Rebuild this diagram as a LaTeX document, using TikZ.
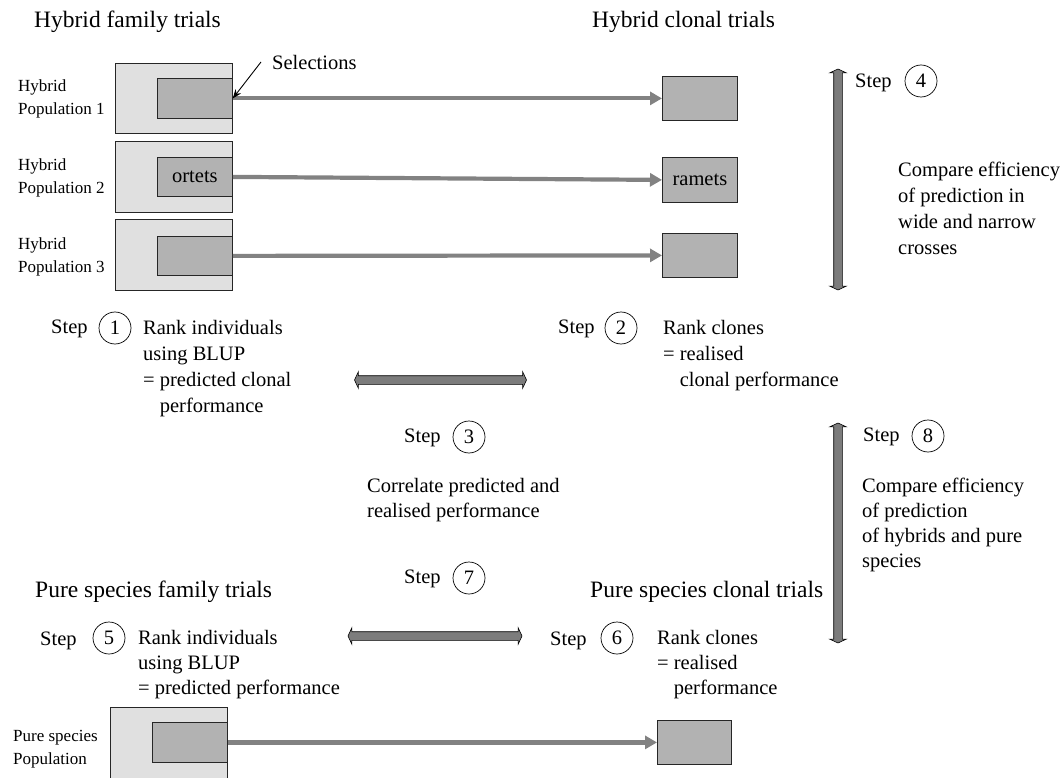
\documentclass[tikz,border=0pt]{standalone}
\usepackage{fontspec}
\setmainfont{Liberation Serif}
\usetikzlibrary{arrows.meta,shapes.arrows}
\definecolor{outerfill}{HTML}{E0E0E0}
\definecolor{innerfill}{HTML}{B2B2B2}
\definecolor{arrowgray}{HTML}{828282}
\definecolor{dblfill}{HTML}{7C7C7C}
\begin{document}
\begin{tikzpicture}[x=1pt,y=-1pt,
 title/.style={font=\fontsize{23.5}{27}\selectfont, anchor=west, inner sep=0},
 body/.style={font=\fontsize{20.5}{25}\selectfont, align=left, anchor=north west, inner sep=0},
 small/.style={font=\fontsize{17}{23}\selectfont, align=left, anchor=west, inner sep=0},
 outerbox/.style={draw=black!85, fill=outerfill, line width=0.8pt, inner sep=0, anchor=north west},
 innerbox/.style={draw=black!85, fill=innerfill, line width=0.8pt, inner sep=0, anchor=north west, font=\fontsize{20.5}{25}\selectfont},
 flow/.style={draw=arrowgray, line width=4.2pt, -{Triangle[length=12pt,width=13pt]}},
 selarrow/.style={draw=black, line width=0.9pt, -{Stealth[length=9pt,width=7pt]}},
 stepnum/.style={circle, draw, line width=0.7pt, minimum size=32pt, inner sep=0, font=\fontsize{20.5}{25}\selectfont},
 steplabel/.style={font=\fontsize{20.5}{25}\selectfont, anchor=west, inner sep=0},
 dbl/.style={double arrow, draw=black, fill=dblfill, line width=0.6pt, inner xsep=0pt, inner ysep=4pt, double arrow head extend=4pt, double arrow tip angle=130}
]
\path[use as bounding box] (0,0) rectangle (1063,778);

% titles
\node[title] (t1) at (34,22) {Hybrid family trials};
\node[title] (t2) at (592,22) {Hybrid clonal trials};
\node[title] (t3) at (35,592) {Pure species family trials};
\node[title] (t4) at (590,592) {Pure species clonal trials};

% hybrid populations
\node[outerbox, minimum width=117pt, minimum height=70pt] (o1) at (115,63) {};
\node[innerbox, minimum width=75pt, minimum height=40pt] (i1) at (157,78) {};
\node[outerbox, minimum width=117pt, minimum height=71pt] (o2) at (115,141) {};
\node[innerbox, minimum width=75pt, minimum height=39pt] (i2) at (157,157) {ortets};
\node[outerbox, minimum width=117pt, minimum height=71pt] (o3) at (115,219) {};
\node[innerbox, minimum width=75pt, minimum height=39pt] (i3) at (157,236) {};

\node[small] (l1) at (18,99) {Hybrid\\Population 1};
\node[small] (l2) at (18,178) {Hybrid\\Population 2};
\node[small] (l3) at (18,257) {Hybrid\\Population 3};

% clonal boxes
\node[innerbox, minimum width=75pt, minimum height=44pt] (r1) at (662,76) {};
\node[innerbox, minimum width=75pt, minimum height=45pt] (r2) at (662,157) {ramets};
\node[innerbox, minimum width=75pt, minimum height=44pt] (r3) at (662,233) {};

\draw[flow] (i1.east) -- (r1.west);
\draw[flow] (i2.east) -- (r2.west);
\draw[flow] (i3.east) -- (r3.west);

% selections
\node[steplabel] (sel) at (272,62) {Selections};
\coordinate (selstart) at (261,62);
\draw[selarrow] (selstart) -- (i1.east);

% pure species
\node[outerbox, minimum width=117pt, minimum height=71pt] (po) at (110,707) {};
\node[innerbox, minimum width=75pt, minimum height=40pt] (pi) at (152,722) {};
\node[innerbox, minimum width=74pt, minimum height=44pt] (pr) at (657,720) {};
\node[small] (lp) at (13,749) {Pure species\\Population};
\draw[flow] (pi.east) -- (pr.west);

% double arrows
\node[dbl, rotate=90, minimum height=221pt] (d4) at (838,179.5) {};
\node[dbl, rotate=90, minimum height=220pt] (d8) at (838,533) {};
\node[dbl, minimum height=172pt] (d3) at (440.5,380) {};
\node[dbl, minimum height=174pt] (d7) at (435,636) {};

% step 1
\node[steplabel] (s1) at (51,329) {Step};
\node[stepnum] (c1) at (115,328) {1};
\node[body, font=\fontsize{20.5}{26}\selectfont] (x1) at (143,320) {Rank individuals\\using BLUP\\= predicted clonal\\\phantom{= }performance};

% step 2
\node[steplabel] (s2) at (558,329) {Step};
\node[stepnum] (c2) at (621,328) {2};
\node[body, font=\fontsize{20.5}{26}\selectfont] (x2) at (663,320) {Rank clones\\= realised\\\phantom{= }clonal performance};

% step 3
\node[steplabel] (s3) at (404,438) {Step};
\node[stepnum] (c3) at (469,437) {3};
\node[body] (x3) at (367,478) {Correlate predicted and\\realised performance};

% step 7
\node[steplabel] (s7) at (404,579) {Step};
\node[stepnum] (c7) at (469,578) {7};

% step 4
\node[steplabel] (s4) at (855,83) {Step};
\node[stepnum] (c4) at (921,81) {4};
\node[body, font=\fontsize{20.5}{26}\selectfont] (x4) at (898,162) {Compare efficiency\\of prediction in\\wide and narrow\\crosses};

% step 8
\node[steplabel] (s8) at (863,437) {Step};
\node[stepnum] (c8) at (928,436) {8};
\node[body] (x8) at (862,478) {Compare efficiency\\of prediction\\of hybrids and pure\\species};

% step 5
\node[steplabel] (s5) at (40,641) {Step};
\node[stepnum] (c5) at (109,638) {5};
\node[body] (x5) at (138,630) {Rank individuals\\using BLUP\\= predicted performance};

% step 6
\node[steplabel] (s6) at (550,641) {Step};
\node[stepnum] (c6) at (617,638) {6};
\node[body] (x6) at (657,630) {Rank clones\\= realised\\\phantom{= }performance};
\end{tikzpicture}
\end{document}
